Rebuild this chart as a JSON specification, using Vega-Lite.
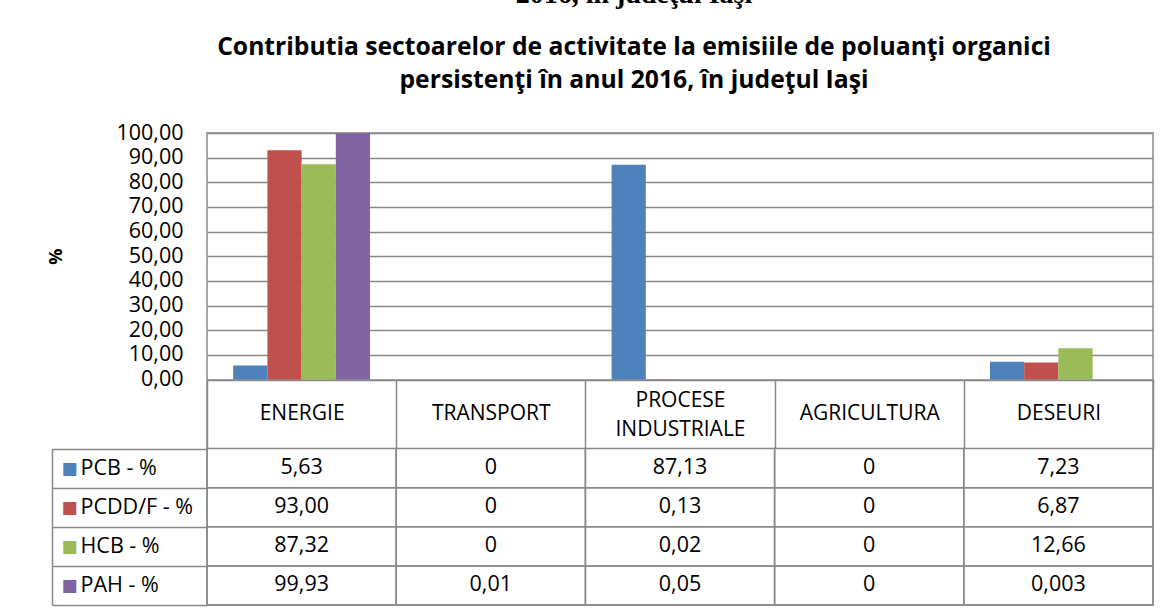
{
  "$schema": "https://vega.github.io/schema/vega-lite/v6.json",
  "width": 946,
  "height": 472,
  "autosize": {"type": "none"},
  "padding": {"left": 207, "top": 133, "right": 11, "bottom": 6},
  "background": "white",
  "title": {
    "text": "2016, în judeţul Iaşi",
    "subtitle": ["Contributia sectoarelor de activitate la emisiile de poluanţi organici", "persistenţi în anul 2016, în judeţul Iaşi"],
    "font": "Liberation Serif",
    "fontSize": 28,
    "fontWeight": "bold",
    "color": "black",
    "subtitleFont": "Open Sans",
    "subtitleFontSize": 24.7,
    "subtitleFontWeight": "bold",
    "subtitleColor": "black",
    "subtitleLineHeight": 33,
    "subtitlePadding": 26,
    "anchor": "middle",
    "frame": "group",
    "offset": 29,
    "dx": -46
  },
  "data": {
    "values": [
      {"category": "ENERGIE", "series": "PCB - %", "value": 5.63, "text": "5,63"},
      {"category": "ENERGIE", "series": "PCDD/F - %", "value": 93.0, "text": "93,00"},
      {"category": "ENERGIE", "series": "HCB - %", "value": 87.32, "text": "87,32"},
      {"category": "ENERGIE", "series": "PAH - %", "value": 99.93, "text": "99,93"},
      {"category": "TRANSPORT", "series": "PCB - %", "value": 0, "text": "0"},
      {"category": "TRANSPORT", "series": "PCDD/F - %", "value": 0, "text": "0"},
      {"category": "TRANSPORT", "series": "HCB - %", "value": 0, "text": "0"},
      {"category": "TRANSPORT", "series": "PAH - %", "value": 0.01, "text": "0,01"},
      {"category": "PROCESE INDUSTRIALE", "series": "PCB - %", "value": 87.13, "text": "87,13"},
      {"category": "PROCESE INDUSTRIALE", "series": "PCDD/F - %", "value": 0.13, "text": "0,13"},
      {"category": "PROCESE INDUSTRIALE", "series": "HCB - %", "value": 0.02, "text": "0,02"},
      {"category": "PROCESE INDUSTRIALE", "series": "PAH - %", "value": 0.05, "text": "0,05"},
      {"category": "AGRICULTURA", "series": "PCB - %", "value": 0, "text": "0"},
      {"category": "AGRICULTURA", "series": "PCDD/F - %", "value": 0, "text": "0"},
      {"category": "AGRICULTURA", "series": "HCB - %", "value": 0, "text": "0"},
      {"category": "AGRICULTURA", "series": "PAH - %", "value": 0, "text": "0"},
      {"category": "DESEURI", "series": "PCB - %", "value": 7.23, "text": "7,23"},
      {"category": "DESEURI", "series": "PCDD/F - %", "value": 6.87, "text": "6,87"},
      {"category": "DESEURI", "series": "HCB - %", "value": 12.66, "text": "12,66"},
      {"category": "DESEURI", "series": "PAH - %", "value": 0.003, "text": "0,003"}
    ]
  },
  "config": {
    "view": {"stroke": "#898989", "strokeWidth": 1.5},
    "font": "Open Sans"
  },
  "resolve": {"scale": {"y": "independent"}, "axis": {"y": "independent"}},
  "layer": [
    {
      "mark": {"type": "bar"},
      "encoding": {
        "x": {
          "field": "category", "type": "nominal", "sort": null,
          "scale": {"paddingInner": 0, "paddingOuter": 0},
          "axis": {
            "orient": "bottom", "offset": -225.5, "title": null,
            "domain": true, "domainColor": "#898989", "domainWidth": 1.5,
            "ticks": true, "tickBand": "extent", "tickSize": 69, "tickColor": "#898989", "tickWidth": 1.5,
            "labelAngle": 0,
            "labelExpr": "split(datum.label, ' ')",
            "labelBaseline": "middle",
            "labelPadding": {"condition": {"test": "datum.value === 'PROCESE INDUSTRIALE'", "value": -48}, "value": -35},
            "labelLineHeight": 28.7,
            "labelFont": "Open Sans", "labelFontSize": 21, "labelColor": "black", "grid": false
          }
        },
        "xOffset": {
          "field": "series", "type": "nominal", "sort": null,
          "scale": {"paddingInner": 0, "paddingOuter": 0.766}
        },
        "y": {
          "field": "value", "type": "quantitative",
          "scale": {"domain": [0, 100], "range": [246.5, 0], "nice": false},
          "axis": {
            "orient": "left", "values": [0, 10, 20, 30, 40, 50, 60, 70, 80, 90, 100],
            "labelExpr": "replace(format(datum.value, '.2f'), '.', ',')",
            "labelFont": "Open Sans", "labelFontSize": 21.5, "labelColor": "black",
            "labelPadding": 24, "ticks": false, "domain": false,
            "grid": true, "gridColor": "#898989", "gridWidth": 1.5,
            "title": "%", "titleFont": "Open Sans", "titleFontSize": 18, "titleFontWeight": "bold",
            "titleColor": "black", "titlePadding": 50
          }
        },
        "color": {
          "field": "series", "type": "nominal", "sort": null,
          "scale": {"domain": ["PCB - %", "PCDD/F - %", "HCB - %", "PAH - %"], "range": ["#4F81BD", "#C0504D", "#9BBB59", "#8064A2"]},
          "legend": null
        }
      }
    },
    {
      "mark": {"type": "rect", "fill": null, "stroke": "#898989", "strokeWidth": 1.5},
      "encoding": {
        "x": {"field": "category", "type": "nominal", "sort": null},
        "y": {
          "field": "series", "type": "nominal", "sort": null,
          "scale": {"domain": ["PCB - %", "PCDD/F - %", "HCB - %", "PAH - %"], "range": [315.5, 472], "paddingInner": 0, "paddingOuter": 0},
          "axis": {
            "orient": "left", "title": null, "domain": false, "grid": false,
            "ticks": true, "tickBand": "extent", "tickSize": 155, "tickColor": "#898989", "tickWidth": 1.5,
            "labelExpr": "indexof(['PCB - %', 'PCDD/F - %', 'HCB - %', 'PAH - %'], datum.value) >= 0 ? '■' : ''",
            "labelFont": "DejaVu Sans", "labelFontSize": 17,
            "labelAlign": "left", "labelBaseline": "middle", "labelPadding": -9,
            "labelColor": {
              "condition": [
                {"test": "datum.value === 'PCB - %'", "value": "#4F81BD"},
                {"test": "datum.value === 'PCDD/F - %'", "value": "#C0504D"},
                {"test": "datum.value === 'HCB - %'", "value": "#9BBB59"}
              ],
              "value": "#8064A2"
            }
          }
        }
      }
    },
    {
      "mark": {"type": "text", "font": "Open Sans", "fontSize": 21.5, "color": "black", "baseline": "middle", "align": "center"},
      "encoding": {
        "x": {"field": "category", "type": "nominal", "sort": null},
        "y": {
          "field": "series", "type": "nominal", "sort": null,
          "scale": {"domain": ["PCB - %", "PCDD/F - %", "HCB - %", "PAH - %"], "range": [315.5, 472], "paddingInner": 0, "paddingOuter": 0},
          "axis": {
            "orient": "left", "offset": 155, "title": null, "grid": false,
            "domain": true, "domainColor": "#898989", "domainWidth": 1.5,
            "ticks": false, "labelFont": "Open Sans", "labelFontSize": 21.5, "labelColor": "black",
            "labelAlign": "left", "labelBaseline": "middle", "labelPadding": -28
          }
        },
        "text": {"field": "text", "type": "nominal"}
      }
    }
  ]
}
